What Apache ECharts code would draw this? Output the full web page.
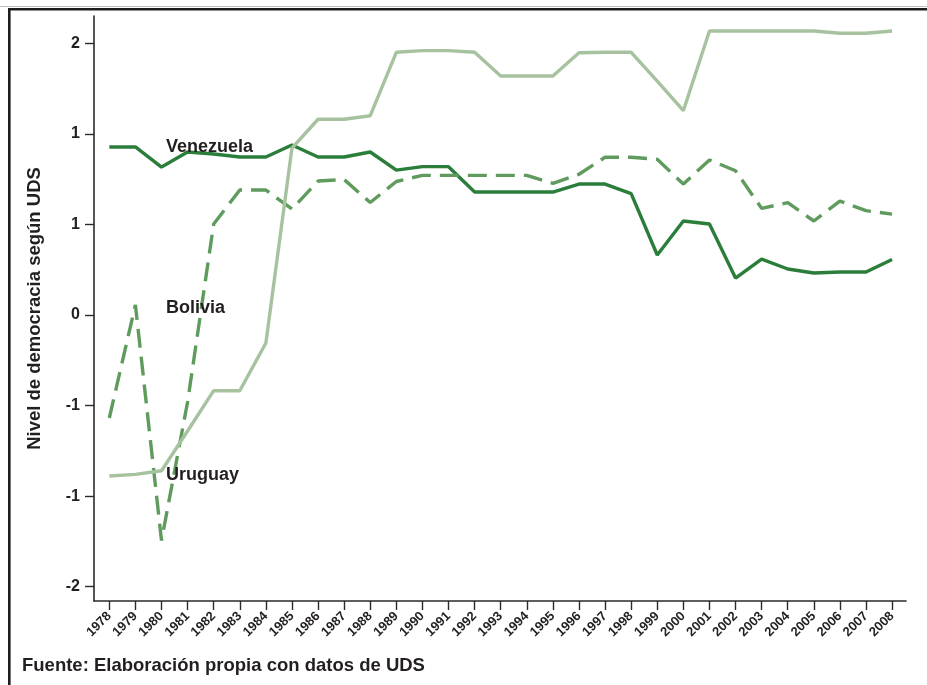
<!DOCTYPE html>
<html>
<head>
<meta charset="utf-8">
<script src="https://cdn.jsdelivr.net/npm/echarts@6/dist/echarts.min.js"></script>
<style>
  html, body { margin: 0; padding: 0; background: #ffffff; }
  #chart { width: 927px; height: 685px; }
</style>
</head>
<body>
<div id="chart"></div>
<script>
// Years on the horizontal axis
const years = [1978, 1979, 1980, 1981, 1982, 1983, 1984, 1985, 1986, 1987,
  1988, 1989, 1990, 1991, 1992, 1993, 1994, 1995, 1996, 1997,
  1998, 1999, 2000, 2001, 2002, 2003, 2004, 2005, 2006, 2007, 2008];

// Democracy level (UDS) per country
const venezuela = [1.237, 1.237, 1.089, 1.200, 1.185, 1.163, 1.163, 1.251, 1.163, 1.163,
  1.200, 1.067, 1.092, 1.092, 0.905, 0.905, 0.905, 0.905, 0.964, 0.964,
  0.894, 0.442, 0.692, 0.670, 0.272, 0.412, 0.339, 0.309, 0.317, 0.317, 0.409];

const bolivia = [-0.758, 0.074, -1.660, -0.640, 0.670, 0.920, 0.920, 0.780, 0.986, 0.997,
  0.828, 0.983, 1.028, 1.028, 1.028, 1.028, 1.028, 0.969, 1.036, 1.161,
  1.161, 1.146, 0.964, 1.141, 1.062, 0.785, 0.827, 0.692, 0.839, 0.768, 0.743];

const uruguay = [-1.185, -1.173, -1.146, -0.854, -0.557, -0.557, -0.206, 1.229, 1.441, 1.441,
  1.467, 1.934, 1.946, 1.946, 1.934, 1.759, 1.759, 1.759, 1.931, 1.934,
  1.934, 1.722, 1.504, 2.091, 2.091, 2.091, 2.091, 2.091, 2.074, 2.074, 2.091];

// Vertical ticks and the labels printed beside them
const yTickValues = [-2, -4 / 3, -2 / 3, 0, 2 / 3, 4 / 3, 2];
const yTickLabels = ['-2', '-1', '-1', '0', '1', '1', '2'];

// Country names written next to the lines: [name, year, value]
const seriesNames = [
  ['Venezuela', 1980.17, 1.234],
  ['Bolivia', 1980.17, 0.055],
  ['Uruguay', 1980.17, -1.177]
];

const textColor = '#231f20';
const axisColor = '#2b2b2b';
const fontFamily = 'Liberation Sans, Arial, sans-serif';

const chart = echarts.init(document.getElementById('chart'), null, { renderer: 'canvas' });

function pairs(values) {
  return years.map((y, i) => [y, values[i]]);
}

chart.setOption({
  animation: false,
  backgroundColor: '#ffffff',
  grid: { left: 94, right: 21, top: 16, bottom: 84, containLabel: false },
  xAxis: {
    type: 'value',
    min: 1977.413,
    max: 2008.533,
    splitLine: { show: false },
    axisLine: { onZero: false, lineStyle: { color: axisColor, width: 1.6 } },
    axisTick: {
      customValues: years,
      length: 9,
      lineStyle: { color: axisColor, width: 1.4 }
    },
    axisLabel: {
      customValues: years,
      rotate: 45,
      margin: 13,
      color: textColor,
      fontFamily: fontFamily,
      fontWeight: 'bold',
      fontSize: 13,
      formatter: (v) => String(Math.round(v))
    }
  },
  yAxis: {
    type: 'value',
    min: -2.105,
    max: 2.201,
    splitLine: { show: false },
    axisLine: { show: true, onZero: false, lineStyle: { color: axisColor, width: 1.6 } },
    axisTick: {
      show: true,
      customValues: yTickValues,
      length: 9,
      lineStyle: { color: axisColor, width: 1.4 }
    },
    axisLabel: {
      customValues: yTickValues,
      margin: 14,
      color: textColor,
      fontFamily: fontFamily,
      fontWeight: 'bold',
      fontSize: 16,
      formatter: (v) => {
        let best = 0;
        yTickValues.forEach((t, i) => {
          if (Math.abs(t - v) < Math.abs(yTickValues[best] - v)) best = i;
        });
        return yTickLabels[best];
      }
    },
    name: 'Nivel de democracia según UDS',
    nameLocation: 'middle',
    nameGap: 50,
    nameTextStyle: {
      color: textColor,
      fontFamily: fontFamily,
      fontWeight: 'bold',
      fontSize: 18.5
    }
  },
  series: [
    {
      name: 'Venezuela',
      type: 'line',
      data: pairs(venezuela),
      showSymbol: false,
      lineStyle: { color: '#2a7e3a', width: 3.4 },
      z: 3
    },
    {
      name: 'Bolivia',
      type: 'line',
      data: pairs(bolivia),
      showSymbol: false,
      lineStyle: { color: '#5f9b5d', width: 3.4, type: [19, 9] },
      z: 4
    },
    {
      name: 'Uruguay',
      type: 'line',
      data: pairs(uruguay),
      showSymbol: false,
      lineStyle: { color: '#a7c29f', width: 3.4 },
      z: 5
    }
  ]
});

// Outer frame, footer note and country names
const graphics = [
  {
    type: 'line', silent: true, z: 10,
    shape: { x1: 0, y1: 6.5, x2: 927, y2: 6.5 },
    style: { stroke: '#bdbdbd', lineWidth: 1 }
  },
  {
    type: 'rect', silent: true, z: 10,
    shape: { x: 9.3, y: 9.3, width: 1200, height: 1200 },
    style: { fill: null, stroke: '#1f1c1d', lineWidth: 2.6 }
  },
  {
    type: 'text', silent: true, z: 10,
    x: 22, y: 665.5,
    style: {
      text: 'Fuente: Elaboración propia con datos de UDS',
      fill: textColor,
      font: 'bold 18.5px ' + fontFamily,
      textAlign: 'left',
      textVerticalAlign: 'middle'
    }
  }
];

seriesNames.forEach(([label, yr, val]) => {
  const [px, py] = chart.convertToPixel({ gridIndex: 0 }, [yr, val]);
  graphics.push({
    type: 'text', silent: true, z: 20,
    x: px, y: py,
    style: {
      text: label,
      fill: textColor,
      font: 'bold 18px ' + fontFamily,
      textAlign: 'left',
      textVerticalAlign: 'middle'
    }
  });
});

chart.setOption({ graphic: graphics });
</script>
</body>
</html>
